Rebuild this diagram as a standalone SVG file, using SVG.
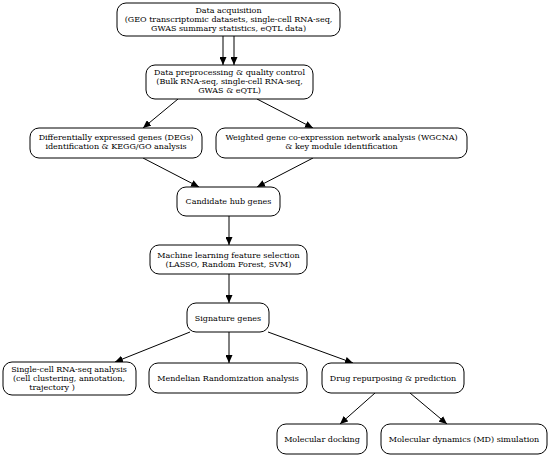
<svg xmlns="http://www.w3.org/2000/svg" width="550" height="457" viewBox="0 0 550 457">
<defs>
<marker id="ah" viewBox="0 0 10 10" refX="10" refY="5" markerWidth="8" markerHeight="7" markerUnits="userSpaceOnUse" orient="auto" preserveAspectRatio="none">
<path d="M0,0 L10,5 L0,10 z" fill="#000"/>
</marker>
<style>
.box{fill:#fff;stroke:#000;stroke-width:1}
text{font-family:"DejaVu Serif",serif;font-size:8px;fill:#000;text-anchor:middle}
.edge{stroke:#000;stroke-width:1;fill:none;marker-end:url(#ah)}
</style>
</defs>
<rect width="550" height="457" fill="#fff"/>
<g id="connectors">
<line class="edge" x1="223" y1="36" x2="223" y2="65"/>
<line class="edge" x1="234" y1="36" x2="234" y2="65"/>
<line class="edge" x1="178" y1="99" x2="143" y2="128"/>
<line class="edge" x1="257" y1="99" x2="313" y2="128"/>
<line class="edge" x1="143" y1="158" x2="199" y2="187"/>
<line class="edge" x1="313" y1="158" x2="257" y2="187"/>
<line class="edge" x1="229" y1="216" x2="229" y2="245"/>
<line class="edge" x1="229" y1="274" x2="229" y2="303"/>
<line class="edge" x1="190" y1="332" x2="115" y2="362"/>
<line class="edge" x1="229" y1="332" x2="229" y2="363"/>
<line class="edge" x1="268" y1="332" x2="353" y2="363"/>
<line class="edge" x1="375" y1="393" x2="340" y2="424"/>
<line class="edge" x1="410" y1="393" x2="447" y2="424"/>
</g>
<g id="n1">
<rect class="box" x="117" y="3" width="223" height="33" rx="9"/>
<text x="228.5" y="13">Data acquisition</text>
<text x="228.5" y="22">(GEO transcriptomic datasets, single-cell RNA-seq,</text>
<text x="228.5" y="31">GWAS summary statistics, eQTL data)</text>
</g>
<g id="n2">
<rect class="box" x="146" y="65" width="167" height="34" rx="9"/>
<text x="229.5" y="75">Data preprocessing &amp; quality control</text>
<text x="229.5" y="84">(Bulk RNA-seq, single-cell RNA-seq,</text>
<text x="229.5" y="93">GWAS &amp; eQTL)</text>
</g>
<g id="n3">
<rect class="box" x="30" y="128" width="172" height="30" rx="9"/>
<text x="116" y="139.5">Differentially expressed genes (DEGs)</text>
<text x="116" y="149">identification &amp; KEGG/GO analysis</text>
</g>
<g id="n4">
<rect class="box" x="216" y="128" width="251" height="30" rx="9"/>
<text x="341.5" y="139.5">Weighted gene co-expression network analysis (WGCNA)</text>
<text x="341.5" y="149">&amp; key module identification</text>
</g>
<g id="n5">
<rect class="box" x="177" y="187" width="103" height="29" rx="9"/>
<text x="228.5" y="204">Candidate hub genes</text>
</g>
<g id="n6">
<rect class="box" x="150" y="245" width="157" height="29" rx="9"/>
<text x="228.5" y="257.5">Machine learning feature selection</text>
<text x="228.5" y="266.5">(LASSO, Random Forest, SVM)</text>
</g>
<g id="n7">
<rect class="box" x="187" y="303" width="82" height="29" rx="9"/>
<text x="228" y="320.5">Signature genes</text>
</g>
<g id="n8">
<rect class="box" x="3" y="362" width="133" height="33" rx="9"/>
<text x="69" y="371.5">Single-cell RNA-seq analysis</text>
<text x="69" y="380.5">(cell clustering, annotation,</text>
<text x="52" y="389.5">trajectory )</text>
</g>
<g id="n9">
<rect class="box" x="149" y="363" width="158" height="30" rx="9"/>
<text x="228" y="380.5">Mendelian Randomization analysis</text>
</g>
<g id="n10">
<rect class="box" x="322" y="363" width="142" height="30" rx="9"/>
<text x="393" y="380.5">Drug repurposing &amp; prediction</text>
</g>
<g id="n11">
<rect class="box" x="277" y="424" width="90" height="30" rx="9"/>
<text x="322" y="441.5">Molecular docking</text>
</g>
<g id="n12">
<rect class="box" x="381" y="424" width="166" height="30" rx="9"/>
<text x="464" y="441.5">Molecular dynamics (MD) simulation</text>
</g>
</svg>
